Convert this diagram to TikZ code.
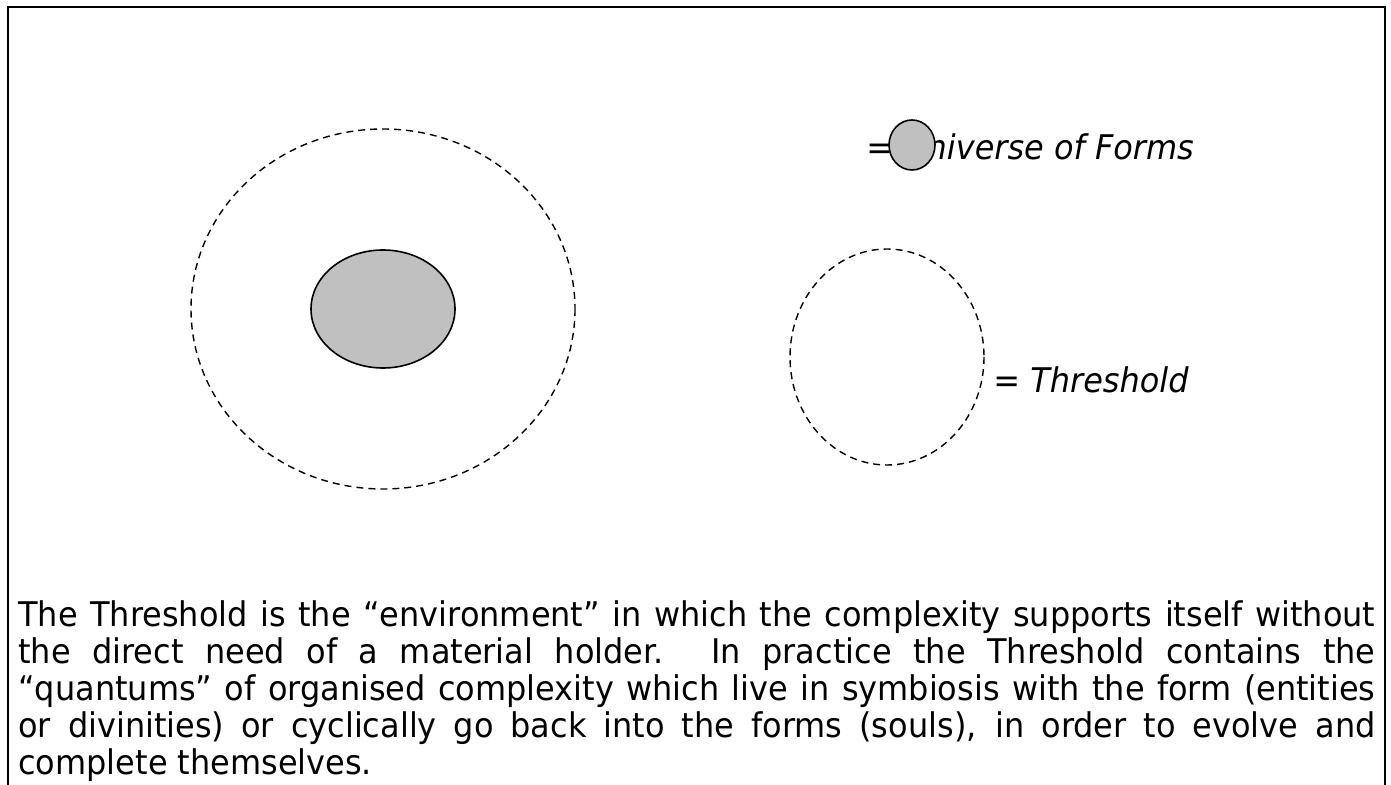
\documentclass[tikz,border=0pt]{standalone}
\usepackage{fontspec}
\setmainfont{DejaVu Sans}[FakeStretch=0.94]
\usetikzlibrary{positioning,calc}
\definecolor{formgray}{RGB}{192,192,192}
\tikzstyle{threshold} = [dash pattern=on 3.5pt off 2.5pt, line width=0.7pt]
\tikzstyle{form} = [fill=formgray, draw=black, line width=0.8pt]
\tikzstyle{legend} = [anchor=base west, inner sep=0pt, font=\fontsize{17}{19}\selectfont\itshape]
\tikzstyle{body} = [anchor=base west, inner sep=0pt, text width=678.5pt, align=justify, font=\fontsize{17}{18.6}\selectfont]

\begin{document}
\begin{tikzpicture}[x=0.5pt,y=-0.5pt]
\useasboundingbox (0,0) rectangle (1391,785);
% frame, open at the bottom
\draw[line width=1.2pt] (8,785) -- (8,7) -- (1385,7) -- (1385,785);
% threshold round the universe of forms
\coordinate (c1) at (383,309);
\draw[threshold] (c1) ellipse [x radius=192, y radius=180];
\draw[form] (c1) ellipse [x radius=72, y radius=59];
% legend
\node[legend] (uf) at (866,160) {= Universe of Forms};
\coordinate (c2) at (912,145);
\draw[form] (c2) ellipse [x radius=23, y radius=25];
\coordinate (c3) at (887,357);
\draw[threshold] (c3) ellipse [x radius=97, y radius=108];
\node[legend] (th) at (993,393) {= Threshold};
% caption text
\node[body] (txt) at (18,626) {\hyphenpenalty=10000
The Threshold is the “environment” in which the complexity supports itself without\linebreak
the direct need of a material holder. In practice the Threshold contains the\linebreak
“quantums” of organised complexity which live in symbiosis with the form (entities\linebreak
or divinities) or cyclically go back into the forms (souls), in order to evolve and\linebreak
complete themselves.};
\end{tikzpicture}
\end{document}
